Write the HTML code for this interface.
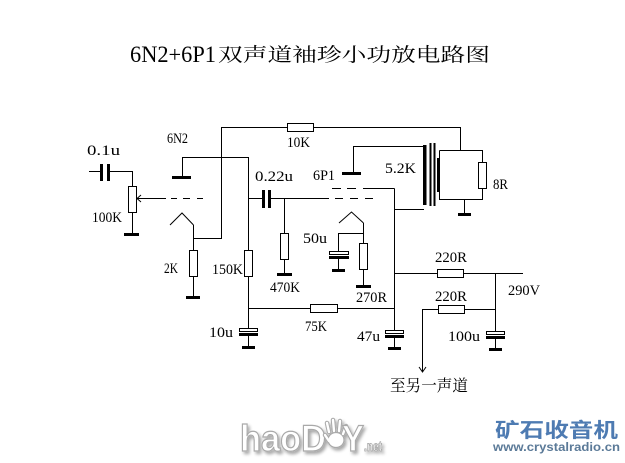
<!DOCTYPE html>
<html><head><meta charset="utf-8">
<style>
html,body{margin:0;padding:0;background:#fff;}
svg{display:block;}
</style></head>
<body>
<svg width="625" height="463" viewBox="0 0 625 463" xmlns="http://www.w3.org/2000/svg">
<defs>
<filter id="sh" x="-10%" y="-30%" width="130%" height="170%">
<feGaussianBlur in="SourceAlpha" stdDeviation="1.6" result="b"/>
<feOffset in="b" dx="2" dy="2.5" result="o"/>
<feComponentTransfer in="o" result="o2"><feFuncA type="linear" slope="0.35"/></feComponentTransfer>
<feMerge><feMergeNode in="o2"/><feMergeNode in="SourceGraphic"/></feMerge>
</filter>
</defs>
<rect width="625" height="463" fill="#fff"/>

<!-- Title -->
<text x="130" y="62" font-family="Liberation Serif, serif" font-size="23" textLength="86" lengthAdjust="spacingAndGlyphs" fill="#000">6N2+6P1</text>
<text x="218" y="61" font-family="Liberation Serif, 'Noto Serif CJK SC', serif" font-size="19" textLength="272" lengthAdjust="spacingAndGlyphs" fill="#000">双声道袖珍小功放电路图</text>

<!-- wires -->
<g stroke="#000" stroke-width="1" fill="none" shape-rendering="crispEdges">
<path d="M89 171.5 H100"/>
<path d="M110 171.5 H132.5 V186"/>
<path d="M132.5 212 V234"/>
<path d="M182.5 177 V157.5 H248.5 V250"/>
<path d="M248.5 277 V329"/>
<path d="M248.5 198.5 H262"/>
<path d="M271 198.5 H329"/>
<path d="M193.5 225 V250"/>
<path d="M193.5 238.5 H221.5 V127.5 H287"/>
<path d="M313 127.5 H460.5 V150.5"/>
<path d="M193.5 277 V297"/>
<path d="M284.5 198.5 V233"/>
<path d="M284.5 259 V274"/>
<path d="M353.5 173 V146.5 H424"/>
<path d="M363.5 223 V243"/>
<path d="M363.5 233.5 H338.5 V252"/>
<path d="M338.5 259 V270"/>
<path d="M363.5 269 V286"/>
<path d="M394.5 188.5 V331"/>
<path d="M363 188.5 H394.5"/>
<path d="M394.5 209.5 H424"/>
<path d="M394.5 273.5 H437"/>
<path d="M463 273.5 H523"/>
<path d="M495.5 273.5 V332"/>
<path d="M495.5 309.5 H464"/>
<path d="M438 309.5 H422.5 V371"/>
<path d="M248.5 308.5 H310"/>
<path d="M337 308.5 H394.5"/>
<path d="M439.5 150.5 H482.5 V162"/>
<path d="M482.5 188 V199.5 H439.5 V150.5"/>
<path d="M464.5 199.5 V213"/>
<path d="M248.5 336 V346"/>
<path d="M394.5 338 V347"/>
<path d="M495.5 339 V348"/>
<path d="M137 198.5 H166"/>
<!-- dashed grids -->
<path d="M171 198.5 H177 M183 198.5 H190 M197 198.5 H203"/>
<path d="M332 188.5 H341 M347 188.5 H356"/>
<path d="M335 198.5 H343 M350 198.5 H358 M365 198.5 H373"/>
</g>

<!-- chevrons / arrows -->
<g stroke="#000" stroke-width="1" fill="none">
<path d="M170 225 L182 213 L193.5 225"/>
<path d="M339 223 L351.5 212 L363.5 223"/>
<path d="M141 195 L137 198.5 L141 202"/>
<path d="M419 367 L422.5 372 L426 367"/>
</g>

<!-- resistors -->
<g stroke="#000" stroke-width="1" fill="#fff" shape-rendering="crispEdges">
<rect x="128.5" y="186.5" width="8" height="26"/>
<rect x="189.5" y="250.5" width="8" height="26"/>
<rect x="244.5" y="250.5" width="8" height="26"/>
<rect x="280.5" y="233.5" width="8" height="26"/>
<rect x="359.5" y="243.5" width="8" height="26"/>
<rect x="478.5" y="162.5" width="8" height="26"/>
<rect x="287.5" y="123.5" width="26" height="8"/>
<rect x="310.5" y="304.5" width="27" height="8"/>
<rect x="437.5" y="269.5" width="26" height="8"/>
<rect x="438.5" y="305.5" width="26" height="8"/>
</g>

<!-- thick parts -->
<g fill="#000" shape-rendering="crispEdges">
<rect x="100" y="164" width="3" height="17"/>
<rect x="107" y="164" width="3" height="17"/>
<rect x="262" y="190" width="3" height="18"/>
<rect x="268" y="190" width="3" height="18"/>
<rect x="172" y="176" width="19" height="3"/>
<rect x="342" y="172" width="19" height="3"/>
<!-- grounds -->
<rect x="124" y="233" width="15" height="3"/>
<rect x="186" y="296" width="14" height="3"/>
<rect x="277" y="273" width="15" height="3"/>
<rect x="332" y="269" width="13" height="3"/>
<rect x="356" y="285" width="15" height="3"/>
<rect x="458" y="213" width="13" height="3"/>
<rect x="242" y="346" width="13" height="3"/>
<rect x="388" y="347" width="13" height="3"/>
<rect x="489" y="348" width="13" height="3"/>
<!-- electrolytic bottom plates -->
<rect x="329" y="256" width="20" height="3"/>
<rect x="239" y="333" width="19" height="3"/>
<rect x="385" y="335" width="19" height="3"/>
<rect x="486" y="336" width="19" height="3"/>
<!-- transformer -->
<rect x="423" y="145" width="3.5" height="60"/>
<rect x="429.5" y="143" width="1.8" height="63"/>
<rect x="433.5" y="143" width="1.8" height="63"/>
<rect x="437" y="158" width="3" height="34"/>
</g>
<!-- electrolytic top plates (hollow) -->
<g stroke="#000" stroke-width="1" fill="#fff" shape-rendering="crispEdges">
<rect x="329.5" y="251.5" width="19" height="3"/>
<rect x="239.5" y="328.5" width="18" height="3"/>
<rect x="385.5" y="330.5" width="18" height="3"/>
<rect x="486.5" y="331.5" width="18" height="3"/>
</g>

<!-- labels -->
<g font-family="Liberation Serif, serif" font-size="15" fill="#000">
<text x="87" y="155" textLength="33" lengthAdjust="spacingAndGlyphs">0.1u</text>
<text x="167" y="143" textLength="21" lengthAdjust="spacingAndGlyphs">6N2</text>
<text x="92" y="222" textLength="30" lengthAdjust="spacingAndGlyphs">100K</text>
<text x="164" y="273" textLength="14" lengthAdjust="spacingAndGlyphs">2K</text>
<text x="212" y="274" textLength="31" lengthAdjust="spacingAndGlyphs">150K</text>
<text x="287" y="147" textLength="23" lengthAdjust="spacingAndGlyphs">10K</text>
<text x="255" y="181" textLength="38" lengthAdjust="spacingAndGlyphs">0.22u</text>
<text x="313" y="180" textLength="22" lengthAdjust="spacingAndGlyphs">6P1</text>
<text x="385" y="173" textLength="31" lengthAdjust="spacingAndGlyphs">5.2K</text>
<text x="493" y="189" textLength="15" lengthAdjust="spacingAndGlyphs">8R</text>
<text x="303" y="243" textLength="24" lengthAdjust="spacingAndGlyphs">50u</text>
<text x="270" y="292" textLength="30" lengthAdjust="spacingAndGlyphs">470K</text>
<text x="356" y="302" textLength="31" lengthAdjust="spacingAndGlyphs">270R</text>
<text x="435" y="262" textLength="32" lengthAdjust="spacingAndGlyphs">220R</text>
<text x="435" y="301" textLength="32" lengthAdjust="spacingAndGlyphs">220R</text>
<text x="508" y="295" textLength="32" lengthAdjust="spacingAndGlyphs">290V</text>
<text x="305" y="331" textLength="22" lengthAdjust="spacingAndGlyphs">75K</text>
<text x="209" y="337" textLength="24" lengthAdjust="spacingAndGlyphs">10u</text>
<text x="357" y="341" textLength="23" lengthAdjust="spacingAndGlyphs">47u</text>
<text x="448" y="341" textLength="32" lengthAdjust="spacingAndGlyphs">100u</text>
</g>
<text x="390" y="391" font-family="Liberation Serif, 'Noto Serif CJK SC', serif" font-size="16" textLength="78" lengthAdjust="spacingAndGlyphs" fill="#000">至另一声道</text>

<!-- haoDIY watermark -->
<g filter="url(#sh)">
<text x="240" y="451" font-family="Liberation Sans, sans-serif" font-weight="bold" font-size="37" textLength="86" lengthAdjust="spacingAndGlyphs" fill="#fff" stroke="#a9a9a9" stroke-width="1.2">haoD</text>
<g stroke-linecap="round" fill="none">
<path d="M329 432 L327 423 M334 431 L333 420 M339 431 L340 421 M343 434 L346 426 M329 441 L325 435" stroke="#a9a9a9" stroke-width="4.5"/>
<ellipse cx="336" cy="440" rx="8" ry="7.5" fill="#fff" stroke="#a9a9a9" stroke-width="1.2"/>
<path d="M329 432 L327 423 M334 431 L333 420 M339 431 L340 421 M343 434 L346 426 M329 441 L325 435" stroke="#fff" stroke-width="2.4"/>
</g>
<text x="342" y="451" font-family="Liberation Sans, sans-serif" font-weight="bold" font-size="37" textLength="22" lengthAdjust="spacingAndGlyphs" fill="#fff" stroke="#a9a9a9" stroke-width="1.2">Y</text>
<text x="364" y="451" font-family="Liberation Sans, sans-serif" font-weight="bold" font-size="14" textLength="18" lengthAdjust="spacingAndGlyphs" fill="#fff" stroke="#a0a0a0" stroke-width="0.8">.net</text>
</g>

<!-- crystalradio watermark -->
<text x="495" y="437" font-family="Liberation Sans, 'Noto Sans CJK SC', sans-serif" font-weight="bold" font-size="20" textLength="123" lengthAdjust="spacingAndGlyphs" fill="#4e7bb2">矿石收音机</text>
<text x="493" y="451" font-family="Liberation Sans, sans-serif" font-weight="bold" font-size="12" textLength="127" lengthAdjust="spacingAndGlyphs" fill="#5b7a98">www.crystalradio.cn</text>
</svg>
</body></html>
